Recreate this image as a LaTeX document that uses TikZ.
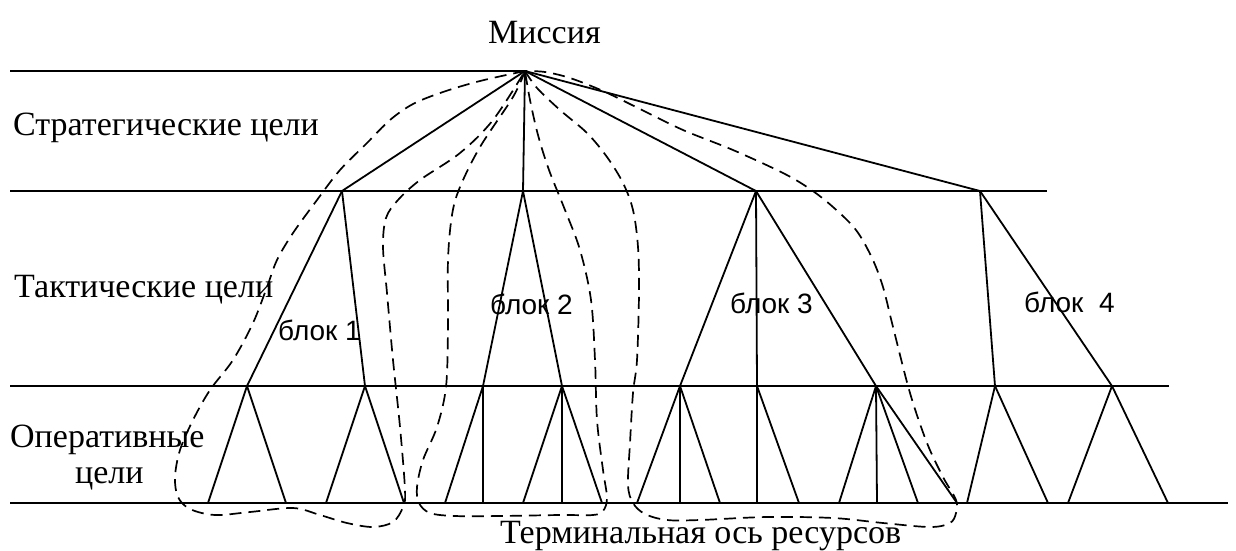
\documentclass[tikz,border=0pt]{standalone}
\usepackage{fontspec}
\setmainfont{Liberation Serif}
\newfontfamily\sansf{Liberation Sans}
\begin{document}
\begin{tikzpicture}[x=1pt,y=-1pt,
  tree/.style={line width=1.8pt, line cap=round},
  level/.style={line width=2pt},
  dloop/.style={line width=1.7pt, dash pattern=on 12pt off 7pt},
  serif/.style={font=\fontsize{34}{37}\selectfont, anchor=base west, inner sep=0pt},
  blk/.style={font=\sansf\fontsize{28}{32}\selectfont, anchor=base west, inner sep=0pt}]
\useasboundingbox (0,0) rectangle (1236,550);

% key points
\coordinate (M) at (525,71);
\coordinate (T1) at (342,191);
\coordinate (T2) at (523,191);
\coordinate (T3) at (756,191);
\coordinate (T4) at (980,191);
\coordinate (A1) at (247,386);
\coordinate (A2) at (365,386);
\coordinate (B1) at (483,386);
\coordinate (B2) at (562,386);
\coordinate (C1) at (680,386);
\coordinate (C2) at (757,386);
\coordinate (C3) at (876,386);
\coordinate (D1) at (995,386);
\coordinate (D2) at (1112,386);
\foreach \n/\x in {1/208,2/286,3/326,4/404,5/445,6/483,7/523,8/562,9/602,10/637,11/680,12/720,13/757,14/799,15/839,16/877,17/918,18/957,19/967,20/1048,21/1068,22/1168}
  \coordinate (L\n) at (\x,503);

% level lines
\coordinate (h0a) at (10,71);
\coordinate (h1a) at (10,191);  \coordinate (h1b) at (1047,191);
\coordinate (h2a) at (10,386);  \coordinate (h2b) at (1169,386);
\coordinate (h3a) at (10,503);  \coordinate (h3b) at (1228,503);
\draw[level] (h0a) -- (M);
\draw[level] (h1a) -- (h1b);
\draw[level] (h2a) -- (h2b);
\draw[level] (h3a) -- (h3b);

% tree
\foreach \p/\c in {M/T1,M/T2,M/T3,M/T4,
  T1/A1,T1/A2,T2/B1,T2/B2,T3/C1,T3/C2,T3/C3,T4/D1,T4/D2,
  A1/L1,A1/L2,A2/L3,A2/L4,B1/L5,B1/L6,B2/L7,B2/L8,B2/L9,
  C1/L10,C1/L11,C1/L12,C2/L13,C2/L14,C3/L15,C3/L16,C3/L17,C3/L18,
  D1/L19,D1/L20,D2/L21,D2/L22}
  \draw[tree] (\p) -- (\c);

% dashed loops
\draw[dloop] plot[smooth, tension=0.55] coordinates {(M) (480,81) (443,92) (413,104) (390,120) (367,143) (340,170) (317,200) (293,233) (277,260) (267,287) (253,323) (233,360) (210,390) (193,420) (180,450) (175,477) (178,497) (190,509) (215,515) (250,512) (293,508) (320,515) (347,523) (373,527) (393,522) (403,507) (405,490) (400,427) (393,360) (387,293) (383,247) (386,218) (398,200) (420,180) (460,153) (493,120) (M)};

\draw[dloop] plot[smooth, tension=0.55] coordinates {(M) (513,97) (480,147) (460,187) (452,215) (448,260) (448,327) (446,387) (437,427) (423,460) (417,487) (419,503) (430,513) (455,516) (500,516) (560,515) (593,515) (603,511) (607,498) (603,470) (597,420) (595,360) (591,300) (580,250) (565,210) (549,170) (538,135) (530,100) (M)};

\draw[dloop] plot[smooth, tension=0.55] coordinates {(M) (537,88) (560,110) (587,133) (607,157) (623,183) (633,210) (638,247) (639,293) (637,360) (633,393) (630,443) (628,485) (633,503) (645,514) (667,520) (700,520) (767,517) (833,518) (883,523) (930,527) (950,523) (956,513) (956,500) (943,477) (927,443) (910,393) (893,327) (883,287) (872,258) (856,230) (833,207) (810,189) (783,173) (733,150) (683,130) (640,109) (603,91) (570,78) (545,72) (M)};

% texts
\node[serif] (mis) at (488,43) {Миссия};
\node[serif] (str) at (13,135) {Стратегические цели};
\node[serif] (tak) at (14,297) {Тактические цели};
\node[serif] (op1) at (10,447) {Оперативные};
\node[serif] (op2) at (75,483) {цели};
\node[serif] (ter) at (500,543) {Терминальная ось ресурсов};
\node[blk] (b1) at (278,340) {блок 1};
\node[blk] (b2) at (490,314) {блок 2};
\node[blk] (b3) at (730,313) {блок 3};
\node[blk] (b4) at (1024,312) {блок~~4};
\end{tikzpicture}
\end{document}
